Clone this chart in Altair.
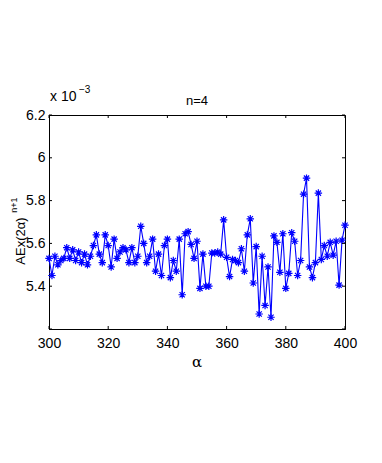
import altair as alt
import pandas as pd

alphas = list(range(300, 401))
values = [
    5.53, 5.45, 5.54, 5.50, 5.52, 5.53, 5.58, 5.53, 5.57, 5.52,
    5.56, 5.51, 5.55, 5.50, 5.54, 5.59, 5.64, 5.55, 5.51, 5.64,
    5.59, 5.49, 5.62, 5.53, 5.56, 5.58, 5.57, 5.51, 5.58, 5.51,
    5.54, 5.68, 5.60, 5.51, 5.54, 5.62, 5.47, 5.55, 5.45, 5.59,
    5.62, 5.44, 5.52, 5.47, 5.62, 5.36, 5.645, 5.655, 5.595, 5.53,
    5.61, 5.39, 5.55, 5.40, 5.40, 5.555, 5.555, 5.56, 5.55, 5.71,
    5.535, 5.445, 5.525, 5.52, 5.51, 5.575, 5.47, 5.64, 5.715, 5.415,
    5.585, 5.27, 5.54, 5.31, 5.49, 5.255, 5.635, 5.605, 5.465, 5.645,
    5.39, 5.46, 5.65, 5.61, 5.45, 5.52, 5.83, 5.905, 5.49, 5.44,
    5.51, 5.835, 5.525, 5.59, 5.54, 5.605, 5.545, 5.61, 5.405, 5.615,
    5.685,
]
x_ticks = [300, 320, 340, 360, 380, 400]
y_ticks = [5.2, 5.4, 5.6, 5.8, 6.0, 6.2]
y_labels = [5.4, 5.6, 5.8, 6.0, 6.2]

W, H = 296, 214
BLUE = "#0000ff"
FONT = "Liberation Sans"
ASTERISK = "M-1,0L1,0M0,-1L0,1M-0.7,-0.7L0.7,0.7M-0.7,0.7L0.7,-0.7"

df = pd.DataFrame({"alpha": alphas, "value": values})
xt = pd.DataFrame({"t": x_ticks})
yt = pd.DataFrame({"t": y_ticks})

xscale = alt.Scale(domain=[300, 400], nice=False, zero=False)
yscale = alt.Scale(domain=[5.2, 6.2], nice=False, zero=False)

xaxis = alt.Axis(values=x_ticks, format="d", title=None, grid=False, ticks=False,
                 labelPadding=7, labelFontSize=14, labelFont=FONT, labelColor="black",
                 domainColor="black", labelFlush=False)
yaxis = alt.Axis(values=y_labels, format=".1~f", title=None, grid=False, ticks=False,
                 labelPadding=4, labelFontSize=14, labelFont=FONT, labelColor="black",
                 domainColor="black", labelFlush=False)

base = alt.Chart(df).encode(
    x=alt.X("alpha:Q", scale=xscale, axis=xaxis),
    y=alt.Y("value:Q", scale=yscale, axis=yaxis),
)
line = base.mark_line(color=BLUE, strokeWidth=1.1)
pts = base.mark_point(shape=ASTERISK, size=56, filled=False, stroke=BLUE, strokeWidth=1.2, opacity=1)

xt_bot = alt.Chart(xt).mark_rule(color="black", strokeWidth=1).encode(
    x=alt.X("t:Q", scale=xscale), y=alt.value(H), y2=alt.value(H - 3))
xt_top = alt.Chart(xt).mark_rule(color="black", strokeWidth=1).encode(
    x=alt.X("t:Q", scale=xscale), y=alt.value(0), y2=alt.value(3))
yt_left = alt.Chart(yt).mark_rule(color="black", strokeWidth=1).encode(
    y=alt.Y("t:Q", scale=yscale), x=alt.value(0), x2=alt.value(3))
yt_right = alt.Chart(yt).mark_rule(color="black", strokeWidth=1).encode(
    y=alt.Y("t:Q", scale=yscale), x=alt.value(W), x2=alt.value(W - 3))

def label(text, x, y, size, angle=0, align="center", baseline="middle", font=FONT):
    return alt.Chart(pd.DataFrame({"s": [text]})).mark_text(
        fontSize=size, font=font, color="black", angle=angle, align=align, baseline=baseline
    ).encode(text="s:N", x=alt.value(x), y=alt.value(y))

title = label("n=4", W / 2, -14, 13)
exp_base = label("x 10", 1, -14, 14, align="left", baseline="alphabetic")
exp_sup = label("\u22123", 30, -22, 10, align="left", baseline="alphabetic")
xtitle = label("\u03b1", W / 2, 247, 15, font="DejaVu Serif")
ytitle = label("AEx(2\u03b1)", -28, 126, 13, angle=270)
ysup = label("n+1", -35, 90, 9, angle=270)

chart = alt.layer(
    line, pts, xt_bot, xt_top, yt_left, yt_right,
    title, exp_base, exp_sup, xtitle, ytitle, ysup,
).properties(
    width=W, height=H,
    autosize=alt.AutoSizeParams(type="none"),
    padding={"left": 41, "top": 107, "right": 29, "bottom": 126},
    background="white",
).configure_view(stroke="black", strokeWidth=1)

chart.save("out.html", embed_options={"renderer": "svg", "actions": False})
